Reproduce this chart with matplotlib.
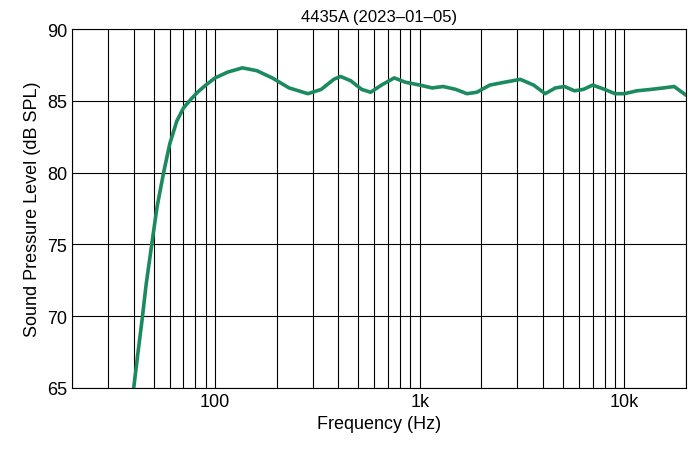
import matplotlib.pyplot as plt
from matplotlib.ticker import FixedLocator, NullFormatter

plt.rcParams['font.family'] = ['Liberation Sans', 'DejaVu Sans']

TITLE = "4435A (2023\u201301\u201305)"
freq_hz = [40, 42, 44, 46, 49, 52, 56, 60, 65, 70, 76, 82, 90, 100, 115, 136, 160, 190,
           230, 284, 330, 380, 410, 460, 520, 575, 650, 750, 850, 1000, 1150, 1300, 1500,
           1700, 1900, 2200, 2600, 3100, 3600, 4100, 4600, 5100, 5700, 6300, 7000, 8000,
           9000, 10000, 11500, 13500, 15500, 17500, 20000]
spl_db = [65.0, 67.5, 69.8, 72.2, 75.0, 77.6, 80.0, 82.0, 83.6, 84.5, 85.1, 85.6, 86.1, 86.6, 87.0, 87.3, 87.1, 86.6,
          85.9, 85.5, 85.8, 86.5, 86.7, 86.4, 85.8, 85.6, 86.1, 86.6, 86.3, 86.1, 85.9, 86.0, 85.8,
          85.5, 85.6, 86.1, 86.3, 86.5, 86.1, 85.5, 85.9, 86.0, 85.7, 85.8, 86.1, 85.8,
          85.5, 85.5, 85.7, 85.8, 85.9, 86.0, 85.4]

fig = plt.figure(figsize=(7, 4.56), dpi=100)
ax = fig.add_axes([0.103, 0.147, 0.877, 0.787])
ax.semilogx(freq_hz, spl_db, color='#1b8a5e', lw=2.6, zorder=3)
ax.set_xlim(20, 20000)
ax.set_ylim(65, 90)
ax.set_yticks([65, 70, 75, 80, 85, 90])
ax.xaxis.set_major_locator(FixedLocator([100, 1000, 10000]))
ax.set_xticklabels(['100', '1k', '10k'])
ax.xaxis.set_minor_formatter(NullFormatter())
ax.grid(True, which='both', color='black', lw=0.8)
ax.tick_params(which='both', length=0, labelsize=13)
for s in ax.spines.values():
    s.set_linewidth(0.8)
ax.set_title(TITLE, fontsize=12, pad=6)
ax.set_xlabel("Frequency (Hz)", fontsize=13)
ax.set_ylabel("Sound Pressure Level (dB SPL)", fontsize=13)
fig.savefig("out.png", dpi=100)
